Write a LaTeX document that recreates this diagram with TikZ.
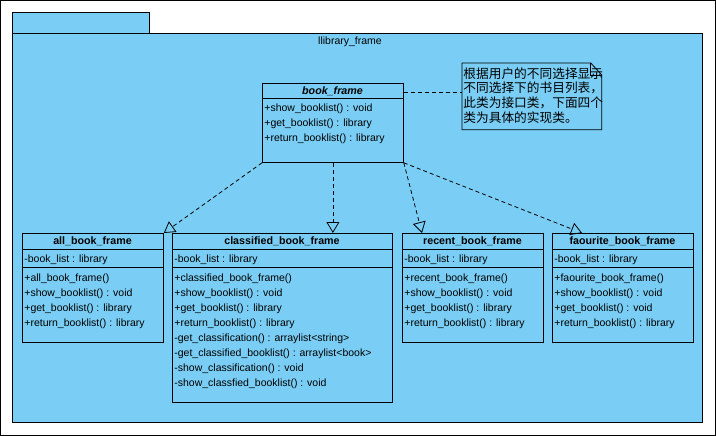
\documentclass[tikz,border=0pt]{standalone}
\usepackage{fontspec}
\setmainfont{Liberation Sans}
\newfontfamily\cjk{Noto Sans CJK SC}
\usetikzlibrary{arrows.meta,positioning,calc}
\definecolor{pkgblue}{RGB}{122,206,245}

\begin{document}
\begin{tikzpicture}[x=1pt,y=-1pt,line width=0.8pt,font=\fontsize{10.5}{12}\selectfont]
\tikzset{
  pkg/.style={draw, fill=pkgblue, anchor=north west, inner sep=0pt},
  cls/.style={draw, fill=pkgblue, anchor=north west, inner sep=0pt},
  clsname/.style={font=\fontsize{10.7}{12}\selectfont\bfseries, inner sep=0pt},
  member/.style={anchor=base west, inner sep=0pt},
  realize/.style={dash pattern=on 4pt off 3pt, -{Triangle[open,length=11pt,width=13pt]}},
}
\useasboundingbox (0,0) rectangle (716,436);
\draw[line width=0.6pt] (0.5,0.5) rectangle (715.5,435.5);

%Draw Package
\node[pkg, minimum width=137pt, minimum height=21pt] (pkgtab) at (12,12) {};
\node[pkg, minimum width=690pt, minimum height=389pt] (pkg) at (12,33) {};
\node (pkgname) at (350,42) {llibrary\_frame};

%Draw book_frame
\node[cls, minimum width=141pt, minimum height=79pt] (bf) at (262,83) {};
\node[clsname, font=\fontsize{10.7}{12}\selectfont\bfseries\itshape] (bf-name) at (332.5,91) {book\_frame};
\draw (bf.west |- 0,98) -- (bf.east |- 0,98);
\foreach \txt [count=\i] in {+show\_booklist() : void, +get\_booklist() : library, +return\_booklist() : library}
  \node[member] (bf-m\i) at (264,97+15*\i) {\txt};

%Draw Note
\node[anchor=north west, minimum width=139pt, minimum height=66pt, inner sep=0pt] (note) at (462,63) {};
\draw[fill=pkgblue] (note.north west) -- ($(note.north east)+(-11,0)$) -- ($(note.north east)+(0,12)$)
  -- (note.south east) -- (note.south west) -- cycle;
\draw ($(note.north east)+(-11,0)$) -- ($(note.north east)+(-11,12)$) -- ($(note.north east)+(0,12)$);
\node[anchor=north west, align=left, inner sep=0pt, font=\cjk\fontsize{12.7}{14.8}\selectfont] (notetext) at (463,67)
  {根据用户的不同选择显示\\不同选择下的书目列表，\\此类为接口类，下面四个\\类为具体的实现类。};
\draw[dash pattern=on 4pt off 3pt] (bf.east |- 0,92) -- (note.west |- 0,92);

%Draw all_book_frame
\node[cls, minimum width=141pt, minimum height=109pt] (allbf) at (22,233) {};
\node[clsname] (allbf-name) at (92.5,241) {all\_book\_frame};
\draw (allbf.west |- 0,249) -- (allbf.east |- 0,249);
\draw (allbf.west |- 0,267) -- (allbf.east |- 0,267);
\node[member] (allbf-a1) at (24,262) {-book\_list : library};
\foreach \txt [count=\i] in {+all\_book\_frame(), +show\_booklist() : void, +get\_booklist() : library, +return\_booklist() : library}
  \node[member] (allbf-m\i) at (24,266+15*\i) {\txt};

%Draw classified_book_frame
\node[cls, minimum width=220pt, minimum height=169pt] (cbf) at (172,233) {};
\node[clsname] (cbf-name) at (282,241) {classified\_book\_frame};
\draw (cbf.west |- 0,249) -- (cbf.east |- 0,249);
\draw (cbf.west |- 0,267) -- (cbf.east |- 0,267);
\node[member] (cbf-a1) at (174,262) {-book\_list : library};
\foreach \txt [count=\i] in {+classified\_book\_frame(), +show\_booklist() : void, +get\_booklist() : library, +return\_booklist() : library,
    -get\_classification() : arraylist<string>, -get\_classified\_booklist() : arraylist<book>,
    -show\_classification() : void, -show\_classfied\_booklist() : void}
  \node[member] (cbf-m\i) at (174,266+15*\i) {\txt};

%Draw recent_book_frame
\node[cls, minimum width=141pt, minimum height=109pt] (rbf) at (402,233) {};
\node[clsname] (rbf-name) at (472.5,241) {recent\_book\_frame};
\draw (rbf.west |- 0,249) -- (rbf.east |- 0,249);
\draw (rbf.west |- 0,267) -- (rbf.east |- 0,267);
\node[member] (rbf-a1) at (404,262) {-book\_list : library};
\foreach \txt [count=\i] in {+recent\_book\_frame(), +show\_booklist() : void, +get\_booklist() : library, +return\_booklist() : library}
  \node[member] (rbf-m\i) at (404,266+15*\i) {\txt};

%Draw faourite_book_frame
\node[cls, minimum width=141pt, minimum height=109pt] (fbf) at (552,233) {};
\node[clsname] (fbf-name) at (622.5,241) {faourite\_book\_frame};
\draw (fbf.west |- 0,249) -- (fbf.east |- 0,249);
\draw (fbf.west |- 0,267) -- (fbf.east |- 0,267);
\node[member] (fbf-a1) at (554,262) {-book\_list : library};
\foreach \txt [count=\i] in {+faourite\_book\_frame(), +show\_booklist() : void, +get\_booklist() : void, +return\_booklist() : library}
  \node[member] (fbf-m\i) at (554,266+15*\i) {\txt};

%Draw Realizations
\draw[realize] (bf.south west) -- (allbf.north east);
\draw[realize] (bf.south) -- (bf.south |- cbf.north);
\draw[realize] (bf.south east) -- ($(rbf.north west)+(20,0)$);
\draw[realize] (bf.south east) -- ($(fbf.north west)+(30,0)$);

\end{tikzpicture}
\end{document}
